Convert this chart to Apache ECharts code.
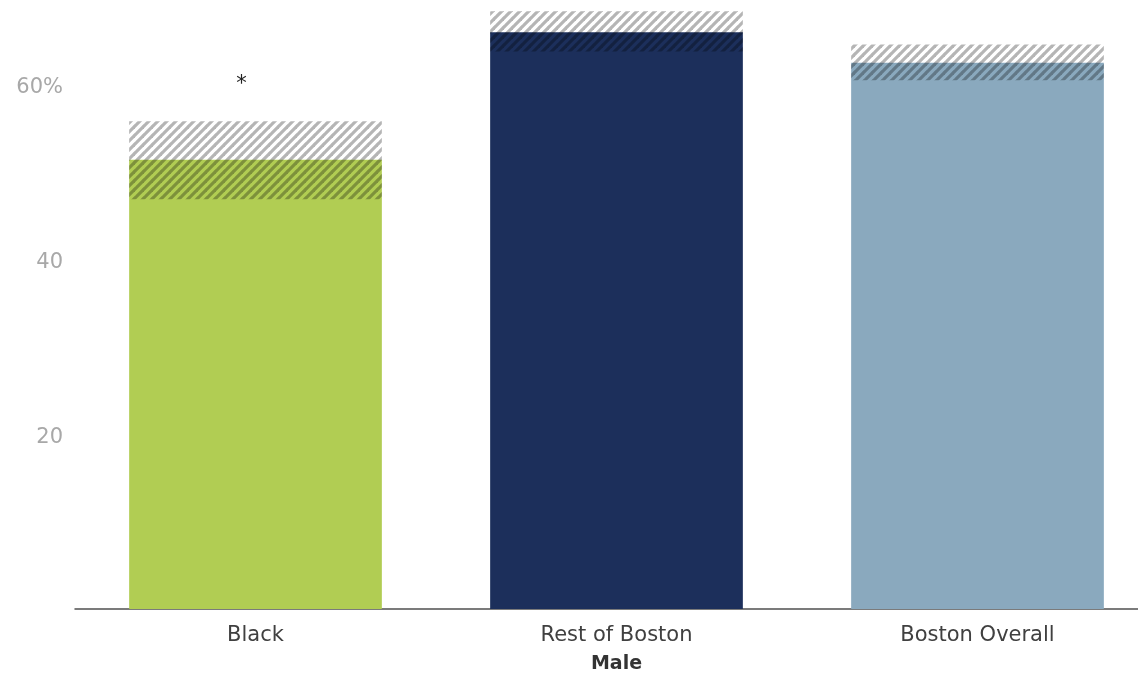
<!DOCTYPE html>
<html>
<head>
<meta charset="utf-8">
<script src="https://cdn.jsdelivr.net/npm/echarts@6/dist/echarts.min.js"></script>
<style>
html,body{margin:0;padding:0;background:#fff;}
#chart{width:1138px;height:673px;}
</style>
</head>
<body>
<div id="chart"></div>
<script>
const categories = ['Black', 'Rest of Boston', 'Boston Overall'];
const values = [51.4, 66.0, 62.5];
const ciLow = [46.9, 63.8, 60.5];
const ciHigh = [55.8, 68.4, 64.6];
const sigMarks = ['*', '', ''];
const barColors = ['#b1cd53', '#1c2f5b', '#8aa9be'];
const axisName = 'Male';

const FONT = 'DejaVu Sans';

// hatch pattern
const tile = document.createElement('canvas');
tile.width = 9; tile.height = 9;
const tctx = tile.getContext('2d');
tctx.strokeStyle = 'rgba(0,0,0,0.29)';
tctx.lineWidth = 3.2;
tctx.lineCap = 'square';
[[-1,1,1,-1],[0,9,9,0],[8,10,10,8]].forEach(function(l){
  tctx.beginPath(); tctx.moveTo(l[0], l[1]); tctx.lineTo(l[2], l[3]); tctx.stroke();
});

const chart = echarts.init(document.getElementById('chart'));
chart.setOption({
  animation: false,
  grid: {left: 75, top: 6, width: 1083, height: 603, outerBoundsMode: 'none', containLabel: false},
  xAxis: {
    type: 'category',
    data: categories,
    axisLine: {lineStyle: {color: '#505050', width: 1.5}},
    axisTick: {show: false},
    axisLabel: {fontFamily: FONT, fontSize: 21, color: '#404040', margin: 16},
    name: axisName,
    nameLocation: 'middle',
    nameGap: 46,
    nameTextStyle: {fontFamily: FONT, fontSize: 19, fontWeight: 'bold', color: '#333'}
  },
  yAxis: {
    type: 'value',
    min: 0, max: 69, interval: 20,
    axisLine: {show: false},
    axisTick: {show: false},
    splitLine: {show: false},
    axisLabel: {
      fontFamily: FONT, fontSize: 21, color: '#a8a8a8', margin: 12,
      showMaxLabel: false,
      formatter: function(v){
        if (v === 0 || v % 20 !== 0) return '';
        return '{t|' + (v === 60 ? v + '%' : String(v)) + '}';
      },
      rich: {t: {fontFamily: FONT, fontSize: 21, color: '#a8a8a8', padding: [6, 0, 0, 0]}}
    }
  },
  series: [
    {
      type: 'bar',
      barWidth: '70%',
      data: values.map(function(v, i){ return {value: v, itemStyle: {color: barColors[i]}}; })
    },
    {
      type: 'custom',
      data: categories.map(function(c, i){ return [i, ciLow[i], ciHigh[i]]; }),
      renderItem: function(params, api){
        const i = api.value(0);
        const top = api.coord([i, api.value(2)]);
        const bot = api.coord([i, api.value(1)]);
        const w = api.size([1, 0])[0] * 0.7;
        const children = [{
          type: 'rect',
          shape: {x: top[0] - w / 2, y: top[1], width: w, height: bot[1] - top[1]},
          style: {fill: {image: tile, repeat: 'repeat'}}
        }];
        const mark = sigMarks[i];
        if (mark) {
          children.push({
            type: 'text',
            style: {
              text: mark, x: top[0] - 14, y: top[1] - 37,
              fontFamily: FONT, fontSize: 21, fill: '#222',
              align: 'center', verticalAlign: 'middle'
            }
          });
        }
        return {type: 'group', children: children};
      },
      z: 3
    }
  ]
});
</script>
</body>
</html>
